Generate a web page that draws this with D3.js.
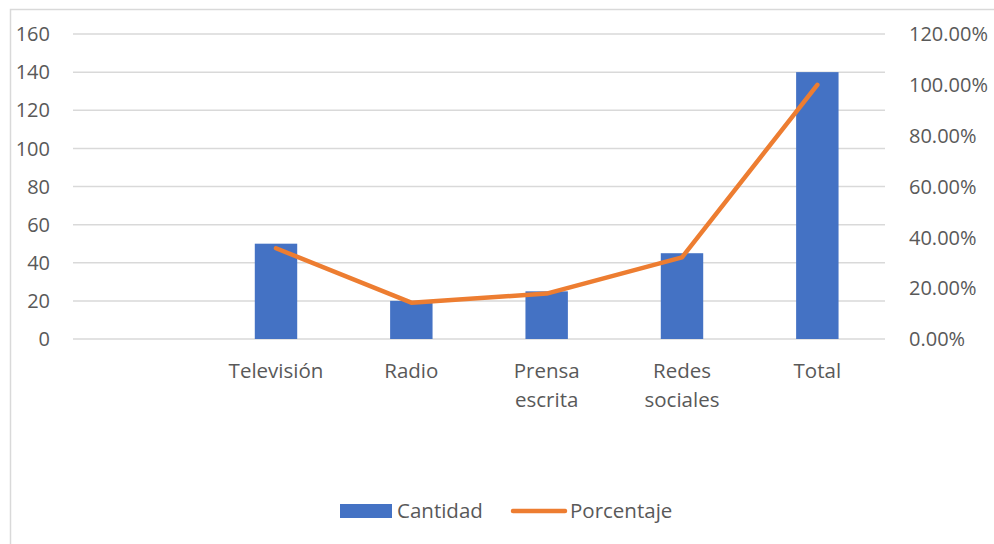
<!DOCTYPE html>
<html>
<head>
<meta charset="utf-8">
<script src="https://cdn.jsdelivr.net/npm/d3@7"></script>
<style>
  body { margin: 0; background: #fff; }
  svg text { font-family: "Open Sans", Lato, sans-serif; fill: #595959; }
</style>
</head>
<body>
<div id="chart"></div>
<script>
// categories (first one is empty in the source sheet)
const categories = ["", "Televisión", "Radio", "Prensa escrita", "Redes sociales", "Total"];
const cantidad = [null, 50, 20, 25, 45, 140];
const porcentaje = [null, 0.3571, 0.1429, 0.1786, 0.3214, 1.0];
const leftTicks = [0, 20, 40, 60, 80, 100, 120, 140, 160];
const rightTicks = [0, 0.2, 0.4, 0.6, 0.8, 1.0, 1.2];

const width = 994, height = 544;
const margin = { left: 73, right: 109, top: 34, bottom: 205 };

const svg = d3.select("#chart").append("svg")
  .attr("width", width)
  .attr("height", height);

// chart frame
svg.append("rect")
  .attr("x", 10.5).attr("y", 9.5)
  .attr("width", width + 20).attr("height", height + 20)
  .attr("fill", "none")
  .attr("stroke", "#d9d9d9")
  .attr("stroke-width", 1.5);

const x = d3.scaleBand()
  .domain(categories.map((d, i) => i))
  .range([margin.left, width - margin.right]);

const yL = d3.scaleLinear().domain([0, 160]).range([height - margin.bottom, margin.top]);
const yR = d3.scaleLinear().domain([0, 1.2]).range([height - margin.bottom, margin.top]);

// gridlines
svg.append("g")
  .selectAll("line")
  .data(leftTicks)
  .join("line")
  .attr("x1", margin.left)
  .attr("x2", width - margin.right)
  .attr("y1", d => yL(d))
  .attr("y2", d => yL(d))
  .attr("stroke", "#d9d9d9")
  .attr("stroke-width", 1.5);

// left axis labels
svg.append("g")
  .selectAll("text")
  .data(leftTicks)
  .join("text")
  .attr("x", 50)
  .attr("y", d => yL(d))
  .attr("dy", "0.36em")
  .attr("text-anchor", "end")
  .attr("font-size", 20)
  .text(d => d);

// right axis labels
svg.append("g")
  .selectAll("text")
  .data(rightTicks)
  .join("text")
  .attr("x", 909)
  .attr("y", d => yR(d))
  .attr("dy", "0.36em")
  .attr("font-size", 20)
  .text(d => (d * 100).toFixed(2) + "%");

// bars
const barW = x.bandwidth() / 3.19;
svg.append("g")
  .selectAll("rect")
  .data(cantidad.map((v, i) => ({ v, i })).filter(d => d.v != null))
  .join("rect")
  .attr("x", d => x(d.i) + (x.bandwidth() - barW) / 2)
  .attr("width", barW)
  .attr("y", d => yL(d.v))
  .attr("height", d => yL(0) - yL(d.v))
  .attr("fill", "#4472c4");

// line
const line = d3.line()
  .defined(d => d.v != null)
  .x(d => x(d.i) + x.bandwidth() / 2)
  .y(d => yR(d.v));

svg.append("path")
  .datum(porcentaje.map((v, i) => ({ v, i })))
  .attr("d", line)
  .attr("fill", "none")
  .attr("stroke", "#ed7d31")
  .attr("stroke-width", 4.5)
  .attr("stroke-linecap", "round")
  .attr("stroke-linejoin", "round");

// category labels, wrapped onto two lines like the original
const catLabel = svg.append("g")
  .selectAll("text")
  .data(categories.map((c, i) => ({ c, i })))
  .join("text")
  .attr("text-anchor", "middle")
  .attr("font-size", 20.5)
  .attr("x", d => x(d.i) + x.bandwidth() / 2)
  .attr("y", 378);

catLabel.each(function (d) {
  const words = d.c.includes(" ") ? d.c.split(" ") : [d.c];
  d3.select(this).selectAll("tspan")
    .data(words)
    .join("tspan")
    .attr("x", x(d.i) + x.bandwidth() / 2)
    .attr("dy", (w, j) => j === 0 ? 0 : 29)
    .text(w => w);
});

// legend
const legend = svg.append("g");
legend.append("rect")
  .attr("x", 340).attr("y", 504)
  .attr("width", 52).attr("height", 14)
  .attr("fill", "#4472c4");
legend.append("text")
  .attr("x", 397).attr("y", 518)
  .attr("font-size", 20.5)
  .text("Cantidad");
legend.append("line")
  .attr("x1", 513).attr("x2", 565)
  .attr("y1", 511).attr("y2", 511)
  .attr("stroke", "#ed7d31")
  .attr("stroke-width", 4.5)
  .attr("stroke-linecap", "round");
legend.append("text")
  .attr("x", 570).attr("y", 518)
  .attr("font-size", 20.5)
  .text("Porcentaje");
</script>
</body>
</html>
